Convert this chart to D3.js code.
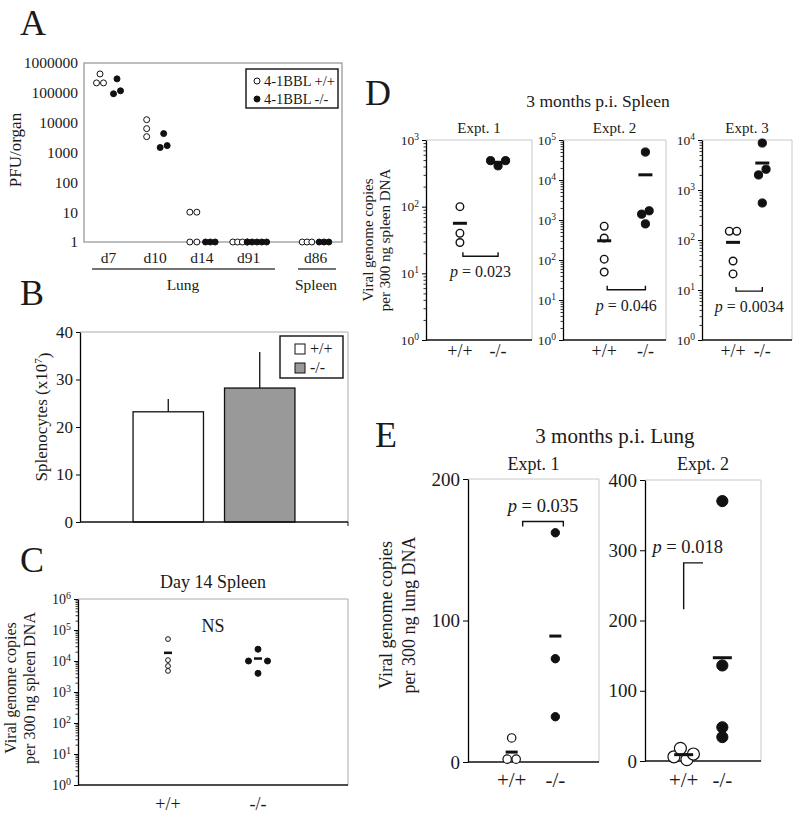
<!DOCTYPE html>
<html><head><meta charset="utf-8">
<script src="https://cdn.jsdelivr.net/npm/d3@7"></script>
<style>body{margin:0;background:#fff} svg{display:block}</style>
</head><body><svg id="fig" width="800" height="817"></svg>
<script>
// ================= DATA =================
// Panel A  (PFU/organ, log scale)
const aLungDays = ["d7","d10","d14","d91"];
const aSpleenDays = ["d86"];
const aDays = ["d7","d10","d14","d91","d86"];
const aWT = [[215000,430000,215000],[12600,6300,3400],[10,10,1,1],[1,1,1,1],[1,1,1]];
const aKO = [[294000,93000,117000],[4300,1470,1700],[1,1,1],[1,1,1,1,1],[1,1,1]];
const aTicks = [1,10,100,1000,10000,100000,1000000];
const aLegend = ["4-1BBL +/+","4-1BBL -/-"];
// Panel B  (Splenocytes x10^7)
const bGenotypes = ["+/+","-/-"];
const bMeans = [23.2, 28.2];
const bErrors = [2.7, 7.6];
const bTicks = [0,10,20,30,40];
// Panel C  (Day 14 spleen)
const cGenotypes = ["+/+","-/-"];
const cWT = [51000,10700,6900,4800];
const cKO = [24000,10000,10000,4000];
const cExponents = [0,1,2,3,4,5,6];
// Panel D  (3 months spleen)
const dTitles = ["Expt. 1","Expt. 2","Expt. 3"];
const dWT = [[100,40,29],[700,355,105,50],[150,150,38,21]];
const dKO = [[490,410,490],[50000,1400,1700,800],[8700,2000,2600,550]];
const dMaxExp = [3,5,4];
const dPvalues = ["0.023","0.046","0.0034"];
const dBracketAt = [18,18,9.5];
// Panel E  (3 months lung)
const eTitles = ["Expt. 1","Expt. 2"];
const eWT = [[17,2,2],[6,18,2,10]];
const eKO = [[162,73,32],[370,136,48,34]];
const eMax = [200,400];
const eTicks = [[0,100,200],[0,100,200,300,400]];
const ePvalues = ["0.035","0.018"];
const eBracketAt = [170,282];
const eBracketLow = [null,216];

// ================= HELPERS =================
const SERIF = '"Liberation Serif","Times New Roman",Times,serif';
const INK = "#1a1a1a";
const svg = d3.select("#fig").attr("font-family", SERIF);

function T(p, x, y, txt, size, anchor) {
  return p.append("text").attr("x", x).attr("y", y).attr("font-size", size)
    .attr("text-anchor", anchor || "middle").attr("fill", INK).text(txt);
}
function vLines(p, xs, yc, lines, size) {
  lines.forEach((l, i) => p.append("text")
    .attr("transform", `translate(${xs[i]},${yc}) rotate(-90)`)
    .attr("text-anchor", "middle").attr("font-size", size).attr("fill", INK).text(l));
}
function line(p, x1, y1, x2, y2, color, w) {
  return p.append("line").attr("x1", x1).attr("y1", y1).attr("x2", x2).attr("y2", y2)
    .attr("stroke", color).attr("stroke-width", w);
}
function pText(p, x, y, val, size) {
  const t = p.append("text").attr("x", x).attr("y", y).attr("font-size", size)
    .attr("text-anchor", "middle").attr("fill", INK);
  t.append("tspan").attr("font-style", "italic").text("p");
  t.append("tspan").text(" = " + val);
}
// cluster points with near-equal pixel y into horizontal rows
function rowLayout(values, y, cx, thr, spacing) {
  const pts = values.map((v, i) => ({ v, i, y: y(v) }));
  const sorted = pts.slice().sort((a, b) => a.y - b.y || a.i - b.i);
  const clusters = [];
  sorted.forEach(p => {
    const last = clusters[clusters.length - 1];
    if (last && p.y - last[last.length - 1].y < thr) last.push(p); else clusters.push([p]);
  });
  clusters.forEach(c => {
    c.sort((a, b) => a.i - b.i);
    const sp = typeof spacing === "function" ? spacing(c.length) : spacing;
    c.forEach((p, k) => p.x = cx + (k - (c.length - 1) / 2) * sp);
  });
  return pts;
}
function dots(p, pts, r, filled, sw) {
  p.selectAll(null).data(pts).join("circle")
    .attr("cx", d => d.x).attr("cy", d => d.y).attr("r", r)
    .attr("fill", filled ? "#111" : "#fff").attr("stroke", "#111").attr("stroke-width", sw);
}
function meanBar(p, cx, yv, w, th) {
  line(p, cx - w / 2, yv, cx + w / 2, yv, "#111", th);
}
function logAxis(p, x0, y, maxExp, majorSize, minorSize, fs, sup, pad) {
  const minors = [];
  for (let e = 0; e < maxExp; e++) for (let m = 2; m <= 9; m++) minors.push(m * Math.pow(10, e));
  const majors = d3.range(0, maxExp + 1).map(e => Math.pow(10, e));
  const gm = p.append("g").attr("transform", `translate(${x0},0)`).attr("color", "#000")
    .call(d3.axisLeft(y).tickValues(minors).tickSize(minorSize).tickSizeOuter(0).tickFormat(""));
  gm.select(".domain").remove();
  gm.selectAll("line").attr("stroke-width", 0.8);
  const g = p.append("g").attr("transform", `translate(${x0},0)`).attr("color", "#000")
    .call(d3.axisLeft(y).tickValues(majors).tickSize(majorSize).tickSizeOuter(0).tickPadding(pad).tickFormat(""));
  g.select(".domain").attr("stroke-width", 1.3);
  g.selectAll(".tick text").each(function (d) {
    const t = d3.select(this).attr("font-family", SERIF).attr("font-size", fs).attr("fill", INK);
    t.append("tspan").text("10");
    t.append("tspan").attr("dy", "-0.5em").attr("font-size", sup).text(Math.round(Math.log10(d)));
  });
}

// ================= PANEL A =================
const gA = svg.append("g");
T(gA, 20, 35, "A", 36, "start");
const aY = d3.scaleLog().domain([1, 1e6]).range([242, 63]);
const aLungX = d3.scalePoint().domain(aLungDays).range([108, 248]);
const aSpleenX = d3.scalePoint().domain(aSpleenDays).range([298, 332]);
const aX = d => aLungDays.includes(d) ? aLungX(d) : aSpleenX(d);
gA.append("rect").attr("x", 84).attr("y", 63).attr("width", 258).attr("height", 179)
  .attr("fill", "none").attr("stroke", "#9a9a9a").attr("stroke-width", 1.3);
const aAx = gA.append("g").attr("transform", "translate(84,0)")
  .call(d3.axisLeft(aY).tickValues(aTicks).tickFormat(d3.format("d")).tickSize(0).tickPadding(6));
aAx.select(".domain").remove();
aAx.selectAll("text").attr("font-family", SERIF).attr("font-size", 15.5).attr("fill", INK);
[aLungX, aSpleenX].forEach(sc => {
  const g = gA.append("g").attr("transform", "translate(0,242)")
    .call(d3.axisBottom(sc).tickSize(0).tickPadding(10));
  g.select(".domain").remove();
  g.selectAll("text").attr("font-family", SERIF).attr("font-size", 15.5).attr("fill", INK);
});
line(gA, 92, 269, 275, 269, "#444", 1.5);
line(gA, 298, 269, 336, 269, "#444", 1.5);
T(gA, 183, 290, "Lung", 15.5);
T(gA, 316, 290, "Spleen", 15.5);
const aSpacing = n => n <= 2 ? 7 : 4.8;
aDays.forEach((d, i) => {
  dots(gA, rowLayout(aWT[i], aY, aX(d) - 8, 5, aSpacing), 3, false, 1);
  dots(gA, rowLayout(aKO[i], aY, aX(d) + 9, 5, aSpacing), 3, true, 1);
});
gA.append("rect").attr("x", 246).attr("y", 69).attr("width", 92).attr("height", 39)
  .attr("fill", "#fff").attr("stroke", "#111").attr("stroke-width", 1.4);
aLegend.forEach((l, i) => {
  gA.append("circle").attr("cx", 257).attr("cy", 81 + i * 18).attr("r", 3)
    .attr("fill", i ? "#111" : "#fff").attr("stroke", "#111").attr("stroke-width", 1);
  T(gA, 264, 86 + i * 18, l, 14.5, "start");
});
vLines(gA, [21], 150, ["PFU/organ"], 17);

// ================= PANEL B =================
const gB = svg.append("g");
T(gB, 20, 305, "B", 36, "start");
const bX = d3.scaleBand().domain(bGenotypes).range([80, 348]).paddingInner(0.23).paddingOuter(0.58);
const bY = d3.scaleLinear().domain([0, 40]).range([522, 332]);
line(gB, 80, 332, 348, 332, "#aaa", 1);
line(gB, 348, 332, 348, 522, "#aaa", 1);
gB.selectAll(null).data(bGenotypes).join("line")
  .attr("x1", d => bX(d) + bX.bandwidth() / 2).attr("x2", d => bX(d) + bX.bandwidth() / 2)
  .attr("y1", (d, i) => bY(bMeans[i])).attr("y2", (d, i) => bY(bMeans[i] + bErrors[i]))
  .attr("stroke", "#111").attr("stroke-width", 1.3);
gB.selectAll(null).data(bGenotypes).join("rect")
  .attr("x", d => bX(d)).attr("width", bX.bandwidth())
  .attr("y", (d, i) => bY(bMeans[i])).attr("height", (d, i) => bY(0) - bY(bMeans[i]))
  .attr("fill", (d, i) => i ? "#999" : "#fff").attr("stroke", "#111").attr("stroke-width", 1.3);
const bAx = gB.append("g").attr("transform", "translate(80,0)").attr("color", "#000")
  .call(d3.axisLeft(bY).tickValues(bTicks).tickSize(4).tickSizeOuter(0).tickPadding(3));
bAx.select(".domain").attr("stroke-width", 1.3);
bAx.selectAll("text").attr("font-family", SERIF).attr("font-size", 17).attr("fill", INK);
line(gB, 80, 522, 348, 522, "#111", 1.3);
line(gB, 348, 522, 348, 526, "#111", 1);
gB.append("rect").attr("x", 280).attr("y", 336).attr("width", 63).attr("height", 42)
  .attr("fill", "#fff").attr("stroke", "#111").attr("stroke-width", 1.4);
bGenotypes.forEach((g, i) => {
  gB.append("rect").attr("x", 295).attr("y", 344 + i * 19).attr("width", 10).attr("height", 10)
    .attr("fill", i ? "#999" : "#fff").attr("stroke", "#111").attr("stroke-width", 1);
  T(gB, 310, 354 + i * 19, g, 16, "start");
});
{
  const t = gB.append("text").attr("transform", "translate(47,417) rotate(-90)")
    .attr("text-anchor", "middle").attr("font-size", 17).attr("fill", INK);
  t.append("tspan").text("Splenocytes (x10");
  t.append("tspan").attr("dy", "-0.45em").attr("font-size", 11).text("7");
  t.append("tspan").attr("dy", "0.45em").text(")");
}

// ================= PANEL C =================
const gC = svg.append("g");
T(gC, 20, 572, "C", 36, "start");
T(gC, 213, 588, "Day 14 Spleen", 18);
const cY = d3.scaleLog().domain([1, 1e6]).range([785, 599]);
const cX = d3.scalePoint().domain(cGenotypes).range([78, 348]).padding(1);
line(gC, 78, 599, 348, 599, "#aaa", 1);
line(gC, 348, 599, 348, 785, "#aaa", 1);
line(gC, 78, 785, 348, 785, "#111", 1.3);
logAxis(gC, 78, cY, cExponents.length - 1, 4, 2.5, 14, 10, 3);
T(gC, 213, 632, "NS", 18);
[cWT, cKO].forEach((vals, k) => {
  const cx = cX(cGenotypes[k]);
  dots(gC, rowLayout(vals, cY, cx, 3, 19), k ? 3 : 2.4, k === 1, 1);
  meanBar(gC, cx, cY(d3.mean(vals)), 8, 2.5);
  T(gC, cx, 810, cGenotypes[k], 18);
});
vLines(gC, [16, 35], 688, ["Viral genome copies", "per 300 ng spleen DNA"], 16);

// ================= PANEL D =================
const gD = svg.append("g");
T(gD, 365, 105, "D", 36, "start");
T(gD, 598, 107, "3 months p.i. Spleen", 17.5);
const dGeom = [{ x0: 426, x1: 532 }, { x0: 563, x1: 666 }, { x0: 702, x1: 792 }];
const dXFrac = [[0.32, 0.68], [0.40, 0.80], [0.345, 0.67]];
const dTop = 140, dBot = 340;
dGeom.forEach((gm, i) => {
  const y = d3.scaleLog().domain([1, Math.pow(10, dMaxExp[i])]).range([dBot, dTop]);
  const x = d3.scalePoint().domain(cGenotypes)
    .range([gm.x0 + dXFrac[i][0] * (gm.x1 - gm.x0), gm.x0 + dXFrac[i][1] * (gm.x1 - gm.x0)]);
  line(gD, gm.x0, dTop, gm.x1, dTop, "#c8c8c8", 1);
  line(gD, gm.x1, dTop, gm.x1, dBot, "#c8c8c8", 1);
  line(gD, gm.x0, dBot, gm.x1, dBot, "#111", 1.3);
  logAxis(gD, gm.x0, y, dMaxExp[i], 4, 2.5, 13.5, 9.5, 3);
  T(gD, (gm.x0 + gm.x1) / 2, 133, dTitles[i], 15);
  const xw = x(cGenotypes[0]), xk = x(cGenotypes[1]);
  dots(gD, rowLayout(dWT[i], y, xw, 7, 7.5), 3.8, false, 1.4);
  dots(gD, rowLayout(dKO[i], y, xk, 7, 7.5), 4.1, true, 1);
  meanBar(gD, xw, y(d3.mean(dWT[i])), 14, 3);
  meanBar(gD, xk, y(d3.mean(dKO[i])), 14, 3);
  const by = y(dBracketAt[i]), bx0 = xw + 3, bx1 = xk;
  gD.append("path").attr("d", `M${bx0},${by - 4}V${by}H${bx1}V${by - 4}`)
    .attr("fill", "none").attr("stroke", "#111").attr("stroke-width", 1.4);
  pText(gD, (bx0 + bx1) / 2, by + 21, dPvalues[i], 16);
  T(gD, xw, 357, cGenotypes[0], 18);
  T(gD, xk, 357, cGenotypes[1], 18);
});
vLines(gD, [373, 390], 240, ["Viral genome copies", "per 300 ng spleen DNA"], 15);

// ================= PANEL E =================
const gE = svg.append("g");
T(gE, 375, 447, "E", 36, "start");
T(gE, 615, 443, "3 months p.i. Lung", 21);
const eGeom = [{ x0: 468, x1: 599, y0: 479, y1: 762 }, { x0: 645, x1: 761, y0: 480, y1: 761 }];
const eR = [[4.2, 4.2], [6, 5.6]];
const eSp = [9, 6.5];
const eBarW = [12, 19];
eGeom.forEach((gm, i) => {
  const y = d3.scaleLinear().domain([0, eMax[i]]).range([gm.y1, gm.y0]);
  const x = d3.scalePoint().domain(cGenotypes).range([gm.x0, gm.x1]).padding(1);
  line(gE, gm.x0, gm.y0, gm.x1, gm.y0, "#c8c8c8", 1);
  line(gE, gm.x1, gm.y0, gm.x1, gm.y1, "#c8c8c8", 1);
  line(gE, gm.x0, gm.y1, gm.x1, gm.y1, "#111", 1.3);
  const ax = gE.append("g").attr("transform", `translate(${gm.x0},0)`).attr("color", "#000")
    .call(d3.axisLeft(y).tickValues(eTicks[i]).tickSize(5).tickSizeOuter(0).tickPadding(3));
  ax.select(".domain").attr("stroke-width", 1.3);
  ax.selectAll("text").attr("font-family", SERIF).attr("font-size", 19).attr("fill", INK);
  T(gE, (gm.x0 + gm.x1) / 2, 470, eTitles[i], 18);
  const xw = x(cGenotypes[0]), xk = x(cGenotypes[1]);
  dots(gE, rowLayout(eWT[i], y, xw, 7, eSp[i]), eR[i][0], false, 1.2);
  dots(gE, rowLayout(eKO[i], y, xk, 7, eSp[i]), eR[i][1], true, 1);
  meanBar(gE, xw, y(d3.mean(eWT[i])), eBarW[i], 3);
  meanBar(gE, xk, y(d3.mean(eKO[i])), eBarW[i], 3);
  const by = y(eBracketAt[i]);
  if (eBracketLow[i] === null) {
    const bx0 = xw + 11, bx1 = xk + 8;
    gE.append("path").attr("d", `M${bx0},${by + 5}V${by}H${bx1}V${by + 5}`)
      .attr("fill", "none").attr("stroke", "#111").attr("stroke-width", 1.4);
    pText(gE, (bx0 + bx1) / 2, by - 9, ePvalues[i], 18.5);
  } else {
    const bx1 = (xw + xk) / 2;
    gE.append("path").attr("d", `M${xw},${y(eBracketLow[i])}V${by}H${bx1}`)
      .attr("fill", "none").attr("stroke", "#111").attr("stroke-width", 1.4);
    pText(gE, xw + 4, by - 10, ePvalues[i], 18.5);
  }
  T(gE, xw, 787, cGenotypes[0], 21);
  T(gE, xk, 787, cGenotypes[1], 21);
});
vLines(gE, [392, 415], 615, ["Viral genome copies", "per 300 ng lung DNA"], 18);
</script></body></html>
